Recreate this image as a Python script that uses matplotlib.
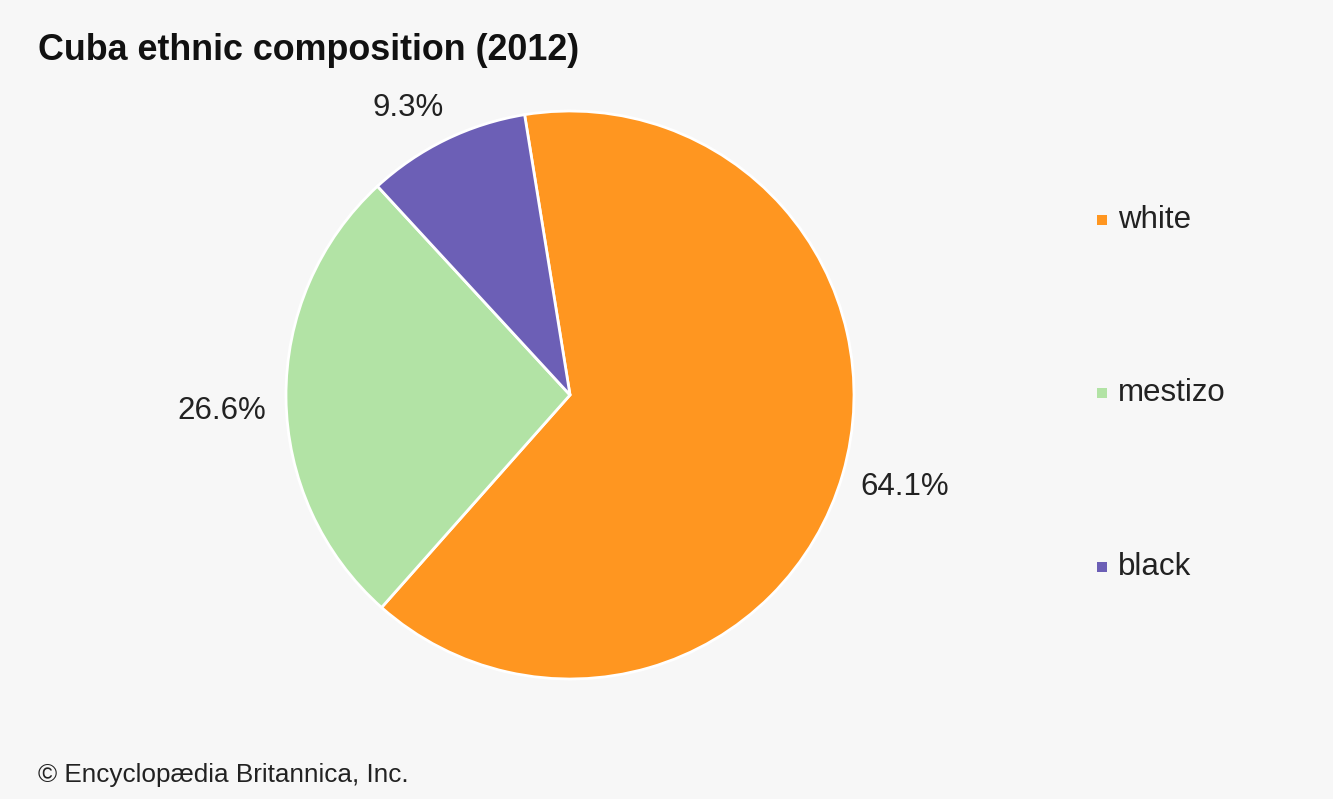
import matplotlib
matplotlib.use("Agg")
import matplotlib.pyplot as plt

categories = ["white", "mestizo", "black"]
values = [64.1, 26.6, 9.3]
colors = ["#FF9620", "#B2E3A5", "#6C5FB6"]
# label anchor positions (in pie radius units) for the percentage labels
label_pos = [(1.18, -0.325), (-1.225, -0.055), (-0.57, 1.01)]

plt.rcParams['font.family'] = ['Liberation Sans', 'DejaVu Sans']
bg = "#F7F7F7"
fig = plt.figure(figsize=(13.33, 7.99), dpi=100, facecolor=bg)

cx, cy, r = 570, 395, 284
W, H = 1333, 799
ax = fig.add_axes([(cx - r) / W, (H - cy - r) / H, 2 * r / W, 2 * r / H])
ax.set_facecolor(bg)
wedges, texts, autotexts = ax.pie(
    values, colors=colors, startangle=99.2, counterclock=False,
    autopct=lambda p: f"{p:.1f}%", pctdistance=1.21,
    wedgeprops=dict(edgecolor="white", linewidth=2),
    textprops=dict(fontsize=22.5, color="#222222"),
)
for t, pos in zip(autotexts, label_pos):
    t.set_position(pos)
ax.set_xlim(-1, 1)
ax.set_ylim(-1, 1)
ax.set_aspect("equal")
ax.axis("off")

fig.text(38 / W, 1 - 50 / H, "Cuba ethnic composition (2012)", fontsize=25.8,
         fontweight="bold", color="#111111", va="center", ha="left")
fig.text(38 / W, 1 - 775 / H, "© Encyclopædia Britannica, Inc.", fontsize=18.8,
         color="#222222", va="center", ha="left")

legend_y = [220, 393, 567]
for cat, col, y in zip(categories, colors, legend_y):
    fig.patches.append(plt.Rectangle((1097 / W, 1 - (y + 5) / H), 10 / W, 10 / H,
                                     transform=fig.transFigure, facecolor=col,
                                     edgecolor="none"))
    fig.text(1118 / W, 1 - y / H, cat, fontsize=22.5, color="#222222",
             va="center", ha="left")

fig.savefig("out.png", dpi=100, facecolor=bg)
